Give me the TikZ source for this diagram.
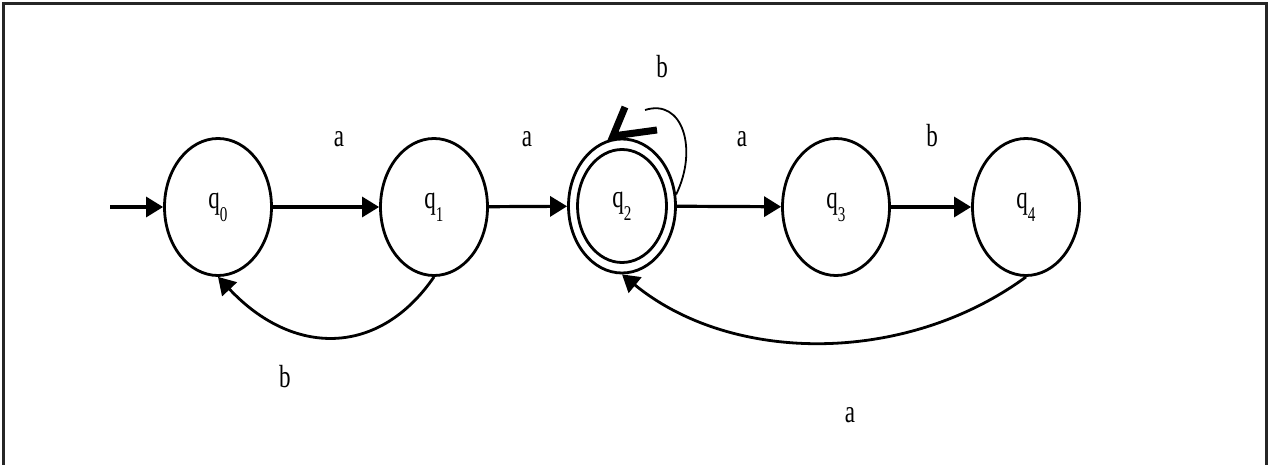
\documentclass[tikz,border=0pt]{standalone}
\usepackage{fontspec}
\usepackage{graphicx}
\setmainfont{Liberation Serif}
\usetikzlibrary{arrows.meta,shapes.geometric}
\newcommand\cond[1]{\scalebox{0.72}[1]{#1}}
\newcommand\stname[1]{\cond{\fontsize{32}{34}\selectfont q\raisebox{-13pt}{\fontsize{21}{22}\selectfont #1}}}
\tikzset{
  state/.style={ellipse,draw,line width=2.8pt,minimum width=107pt,minimum height=137pt,inner sep=0pt},
  trans/.style={line width=3.2pt,-{Triangle[length=17pt,width=20pt]}},
  back/.style={line width=2.8pt,-{Triangle[length=17pt,width=20pt]}},
  lab/.style={anchor=base,inner sep=0pt,font=\fontsize{32}{34}\selectfont},
}
\begin{document}
\begin{tikzpicture}[x=1pt,y=-1pt]
\useasboundingbox (0,0) rectangle (1273,465);
\draw[line width=3pt,black!85] (3.5,470) -- (3.5,3.5) -- (1266.5,3.5) -- (1266.5,470);

\node[state] (q0) at (218,207) {\stname{0}};
\node[state] (q1) at (434,207) {\stname{1}};
\node[state,minimum width=107pt,minimum height=134pt] (q2) at (622,206) {};
\node[ellipse,draw,line width=2.8pt,minimum width=89pt,minimum height=113pt,inner sep=0pt] (q2in) at (622,206) {\stname{2}};
\node[state] (q3) at (836,207) {\stname{3}};
\node[state] (q4) at (1026,207) {\stname{4}};

\coordinate (start) at (110,207);
\draw[trans] (start) -- (q0);
\draw[trans] (q0) -- (q1);
\draw[trans] (q1) -- (q2);
\draw[trans] (q2) -- (q3);
\draw[trans] (q3) -- (q4);

\draw[back] (q1.south) .. controls +(-55,80) and +(75,80) .. (q0.south);
\draw[back] (q4.south) .. controls +(-120,88) and +(110,90) .. (q2.south);

% self loop on q2
\coordinate (loopend) at (645,110);
\draw[line width=1.8pt] (q2.12) .. controls +(22,-45) and +(38,-12) .. (loopend);
\coordinate (tickapex) at (613,136);
\draw[line width=7pt,line join=miter] ([shift={(12,-29)}]tickapex) -- (tickapex) -- ([shift={(44,-6)}]tickapex);

\node[lab] (l01) at (339,147) {\cond{a}};
\node[lab] (l12) at (527,147) {\cond{a}};
\node[lab] (l22) at (662,78) {\cond{b}};
\node[lab] (l23) at (742,147) {\cond{a}};
\node[lab] (l34) at (932,147) {\cond{b}};
\node[lab] (l10) at (285,387) {\cond{b}};
\node[lab] (l42) at (850,422) {\cond{a}};
\end{tikzpicture}
\end{document}
